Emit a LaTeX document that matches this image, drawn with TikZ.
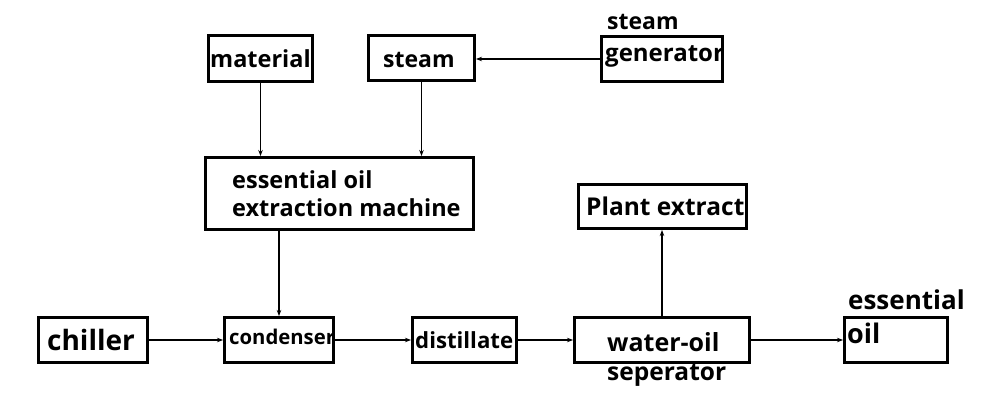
\documentclass[tikz,border=0pt]{standalone}
\usepackage{fontspec}
\setmainfont{Open Sans}
\usetikzlibrary{arrows.meta}
\begin{document}
\begin{tikzpicture}[x=1pt,y=-1pt,
  box/.style={draw, line width=3pt, rectangle, inner sep=0pt},
  lbl/.style={anchor=base west, inner sep=0pt, font=\bfseries\fontsize{#1}{#1}\selectfont},
  conn/.style={line width=1.1pt, -{Stealth[length=6pt,width=4.5pt]}}]
\useasboundingbox[fill=white] (0,0) rectangle (991,404);
% boxes
\node[box, minimum width=104pt, minimum height=46pt] (material) at (260.5,58.5) {};
\node[box, minimum width=106pt, minimum height=45pt] (steam) at (421.5,58) {};
\node[box, minimum width=121pt, minimum height=45pt] (gen) at (662,59) {};
\node[box, minimum width=268pt, minimum height=72pt] (extract) at (339.5,193.5) {};
\node[box, minimum width=168pt, minimum height=44pt] (plant) at (662.5,206.5) {};
\node[box, minimum width=109pt, minimum height=45pt] (chiller) at (93,340) {};
\node[box, minimum width=109pt, minimum height=45pt] (condenser) at (279,340) {};
\node[box, minimum width=104pt, minimum height=45pt] (distillate) at (464.5,340) {};
\node[box, minimum width=175pt, minimum height=45pt] (wateroil) at (662,340) {};
\node[box, minimum width=103pt, minimum height=45pt] (essoil) at (896,340) {};
% labels
\node[lbl=23.5] (tmaterial) at (210,68) {material};
\node[lbl=23] (tsteam) at (383,67) {steam};
\node[lbl=23] (tgen1) at (607,30) {steam};
\node[lbl=24] (tgen2) at (605,62) {generator};
\node[lbl=23.5] (text1) at (232,188) {essential oil};
\node[lbl=23.5] (text2) at (232,216) {extraction machine};
\node[lbl=24.5] (tplant) at (586,215) {Plant extract};
\node[lbl=28] (tchiller) at (47,350) {chiller};
\node[lbl=20.3] (tcond) at (229,344) {condenser};
\node[lbl=22.2] (tdist) at (415,348) {distillate};
\node[lbl=25] (twater1) at (607,351) {water-oil};
\node[lbl=24.5] (twater2) at (607,380) {seperator};
\node[lbl=26] (tess1) at (848,309) {essential};
\node[lbl=27] (tess2) at (847,343) {oil};
% connectors
\draw[conn] (material.south) -- (material.south |- extract.north);
\draw[conn] (steam.south) -- (steam.south |- extract.north);
\draw[conn] (gen.west) -- (gen.west -| steam.east);
\draw[conn] (extract.south -| condenser.north) -- (condenser.north);
\draw[conn] (chiller.east) -- (condenser.west);
\draw[conn] (condenser.east) -- (distillate.west);
\draw[conn] (distillate.east) -- (wateroil.west);
\draw[conn] (wateroil.north) -- (wateroil.north |- plant.south);
\draw[conn] (wateroil.east) -- (essoil.west);
\end{tikzpicture}
\end{document}
